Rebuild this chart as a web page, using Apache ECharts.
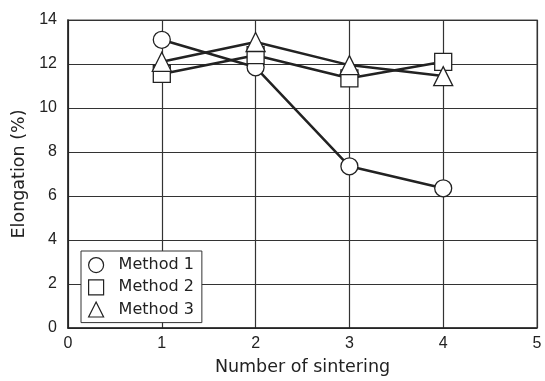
<!DOCTYPE html>
<html>
<head>
<meta charset="utf-8">
<script src="https://cdn.jsdelivr.net/npm/echarts@6/dist/echarts.min.js"></script>
<style>
  html, body { margin: 0; padding: 0; background: #fff; }
  #chart { width: 545px; height: 381px; }
</style>
</head>
<body>
<div id="chart"></div>
<script>
// Number of sintering
const sinterCounts = [1, 2, 3, 4];
// Elongation (%) per method
const method1 = [13.1, 11.85, 7.35, 6.35];
const method2 = [11.55, 12.4, 11.35, 12.1];
const method3 = [12.1, 13.0, 11.95, 11.45];
const seriesNames = ["Method 1", "Method 2", "Method 3"];
const seriesSymbols = ["circle", "rect", "triangle"];

const tickFont = "Liberation Sans";
const textFont = "DejaVu Sans";
const ink = "#222";

function pairs(values) {
  return sinterCounts.map((x, i) => [x, values[i]]);
}

function makeSeries(name, values, symbol) {
  return {
    name: name,
    type: "line",
    data: pairs(values),
    symbol: symbol,
    symbolSize: symbol === "triangle" ? 19 : 17,
    lineStyle: { color: ink, width: 2.5 },
    itemStyle: { color: "#fff", borderColor: ink, borderWidth: 1.3 },
    emphasis: { disabled: true },
    animation: false,
  };
}

const chart = echarts.init(document.getElementById("chart"));
chart.setOption({
  backgroundColor: "#fff",
  grid: {
    left: 68,
    right: 8,
    top: 20,
    bottom: 51,
    show: true,
    borderColor: "#888",
    borderWidth: 1.5,
    backgroundColor: "transparent",
  },
  legend: {
    orient: "vertical",
    left: 81,
    top: 251,
    width: 118,
    padding: [6, 8, 5, 7],
    itemGap: 6,
    itemWidth: 15,
    itemHeight: 15,
    backgroundColor: "#fff",
    borderColor: "#333",
    borderWidth: 1,
    borderRadius: 0,
    data: seriesNames.map((n, i) => ({ name: n, icon: seriesSymbols[i] })),
    itemStyle: { color: "#fff", borderColor: ink, borderWidth: 1.2 },
    textStyle: { fontFamily: textFont, fontSize: 16, color: ink, padding: [0, 0, 0, 10] },
  },
  xAxis: {
    type: "value",
    min: 0,
    max: 5,
    interval: 1,
    name: "Number of sintering",
    nameLocation: "middle",
    nameGap: 30,
    nameTextStyle: { fontFamily: textFont, fontSize: 17.5, color: ink },
    axisLine: { show: true, lineStyle: { color: ink, width: 1.5 } },
    axisTick: { show: false },
    axisLabel: { fontFamily: tickFont, fontSize: 16, color: ink, margin: 8 },
    splitLine: { show: true, lineStyle: { color: "#333", width: 1.2 } },
  },
  yAxis: {
    type: "value",
    min: 0,
    max: 14,
    interval: 2,
    name: "Elongation (%)",
    nameLocation: "middle",
    nameGap: 33,
    nameTextStyle: { fontFamily: textFont, fontSize: 17.5, color: ink },
    axisLine: { show: true, lineStyle: { color: ink, width: 1.5 } },
    axisTick: { show: false },
    axisLabel: { fontFamily: tickFont, fontSize: 16, color: ink, margin: 11 },
    splitLine: { show: true, lineStyle: { color: "#333", width: 1.2 } },
  },
  series: [
    makeSeries(seriesNames[0], method1, seriesSymbols[0]),
    makeSeries(seriesNames[1], method2, seriesSymbols[1]),
    makeSeries(seriesNames[2], method3, seriesSymbols[2]),
  ],
});
</script>
</body>
</html>
